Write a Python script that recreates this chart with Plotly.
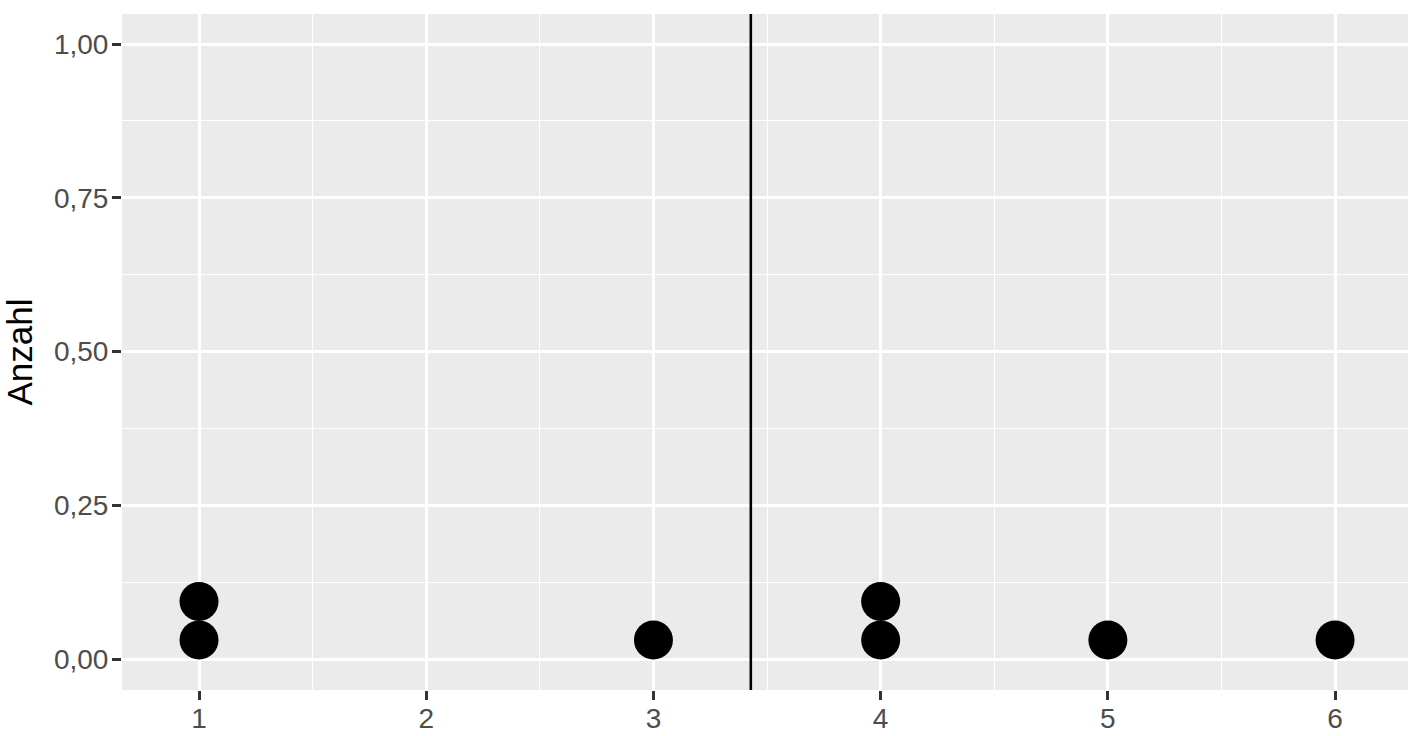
import plotly.graph_objects as go

# Augenzahlen (Wuerfelwuerfe) und gestapelte Punkthoehen
werte = [1, 1, 3, 4, 4, 5, 6]
stapel_hoehe = [0.031, 0.0935]   # y der 1. und 2. Punktreihe
x_ticks = [1, 2, 3, 4, 5, 6]
y_ticks = [0, 0.25, 0.5, 0.75, 1.0]

mittelwert = sum(werte) / len(werte)

# jedem Wert seine Stapelposition zuordnen
xs, ys = [], []
gezaehlt = {}
for w in werte:
    k = gezaehlt.get(w, 0)
    gezaehlt[w] = k + 1
    xs.append(w)
    ys.append(stapel_hoehe[k])

fig = go.Figure()
fig.add_trace(go.Scatter(
    x=xs, y=ys,
    mode='markers',
    marker=dict(size=39, color='black', line=dict(width=0)),
    showlegend=False,
    hoverinfo='x'
))

fig.add_shape(type='line', xref='x', yref='paper',
              x0=mittelwert, x1=mittelwert, y0=0, y1=1,
              line=dict(color='black', width=2.6), layer='above')

achse = dict(
    showgrid=True, gridcolor='white', gridwidth=2.6,
    zeroline=False, showline=False, automargin=False,
    ticks='outside', ticklen=9, tickwidth=2.6, tickcolor='#333333',
    tickfont=dict(size=28, color='#4d4d4d'),
)

fig.update_layout(
    width=1412, height=736,
    margin=dict(l=122, r=4, t=14, b=46),
    paper_bgcolor='white', plot_bgcolor='#ebebeb',
    font=dict(family='Liberation Sans, Arial, sans-serif'),
    separators=',.',
    xaxis=dict(
        achse, range=[0.661, 6.321], tickvals=x_ticks,
        minor=dict(dtick=1, tick0=0.5, showgrid=True, gridcolor='white',
                   gridwidth=1.3, ticks=''),
        ticklabelstandoff=-6,
    ),
    yaxis=dict(
        achse, range=[-0.0504, 1.0488], tickvals=y_ticks, tickformat='.2f',
        minor=dict(dtick=0.25, tick0=0.125, showgrid=True, gridcolor='white',
                   gridwidth=1.3, ticks=''),
        ticklabelstandoff=-2,
        title=dict(text='Anzahl', font=dict(size=35, color='black'), standoff=12),
    ),
)

# Seitenrand des Browsers entfernen, damit die Grafik bei (0,0) beginnt
fig.write_html("out.html",
               config={'displayModeBar': False},
               post_script="document.body.style.margin='0';"
                           "document.body.style.overflow='hidden';")
